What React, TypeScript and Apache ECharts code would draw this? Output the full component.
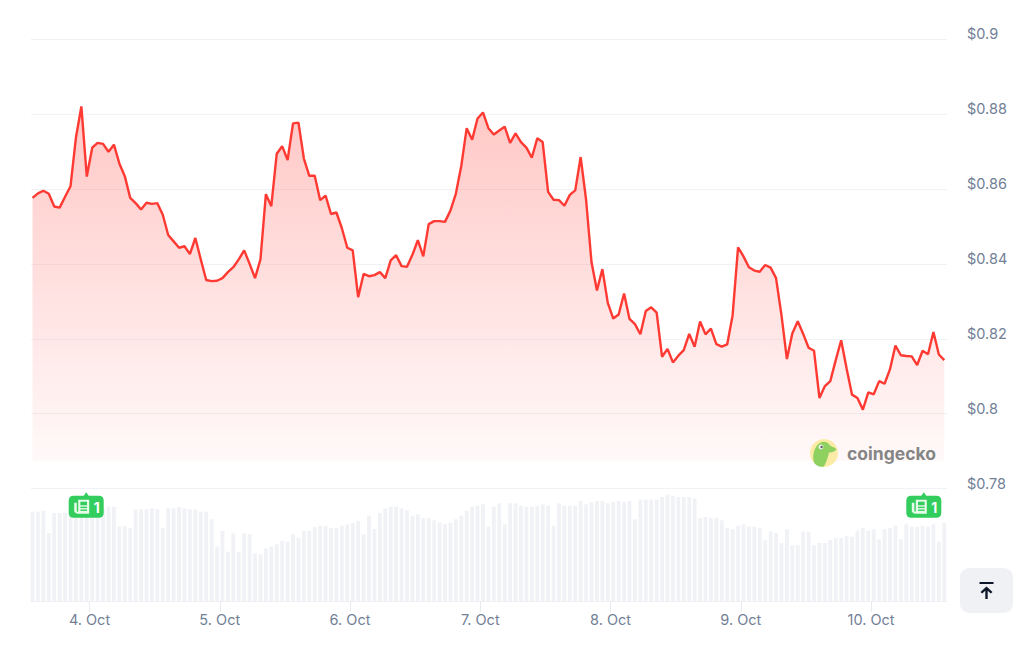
import React, { useEffect, useRef } from "react";
import * as echarts from "echarts";

const priceValues = [
  0.8576, 0.8588, 0.8595, 0.8587, 0.8553, 0.855, 0.8579, 0.8607, 0.8737, 0.882, 0.8633, 0.871, 0.8723, 0.872, 0.8699,
  0.8718, 0.8668, 0.8634, 0.8576, 0.8562, 0.8545, 0.8563, 0.856, 0.8562, 0.8531, 0.8477, 0.846, 0.8443, 0.8447, 0.8426,
  0.8469, 0.8412, 0.8357, 0.8354, 0.8355, 0.8362, 0.8378, 0.8391, 0.8412, 0.8436, 0.84, 0.8362, 0.8412, 0.8586, 0.8554,
  0.8694, 0.8714, 0.8677, 0.8775, 0.8777, 0.8681, 0.8635, 0.8635, 0.857, 0.8582, 0.8533, 0.8537, 0.8495, 0.8443, 0.8436,
  0.8311, 0.8373, 0.8367, 0.837, 0.8378, 0.8362, 0.8409, 0.8423, 0.8394, 0.8392, 0.8424, 0.8463, 0.842, 0.8506, 0.8514,
  0.8514, 0.8512, 0.8542, 0.8587, 0.8661, 0.8762, 0.8731, 0.8788, 0.8804, 0.8762, 0.8745, 0.8756, 0.8766, 0.8723, 0.8748,
  0.8725, 0.871, 0.8683, 0.8735, 0.8725, 0.8592, 0.8571, 0.857, 0.8555, 0.8584, 0.8596, 0.8685, 0.8571, 0.8404, 0.8329,
  0.8386, 0.8296, 0.8254, 0.8265, 0.8321, 0.8253, 0.8239, 0.8212, 0.8274, 0.8284, 0.827, 0.8152, 0.8173, 0.8137, 0.8155,
  0.817, 0.8213, 0.8179, 0.8246, 0.8212, 0.8227, 0.8186, 0.8179, 0.8185, 0.8263, 0.8444, 0.842, 0.8391, 0.8382, 0.8379,
  0.8397, 0.839, 0.8362, 0.8263, 0.8146, 0.8214, 0.8247, 0.8213, 0.8176, 0.8168, 0.8042, 0.8074, 0.8087, 0.8143, 0.8196,
  0.8121, 0.8051, 0.8042, 0.8011, 0.8057, 0.8052, 0.8087, 0.808, 0.8119, 0.8182, 0.8156, 0.8154, 0.8153, 0.813, 0.8168,
  0.8159, 0.8218, 0.8158, 0.8143,
];

const volumeValues = [
  89.3, 89.3, 90.3, 68, 88, 88, 88, 91, 90, 92, 92, 91, 91, 92, 94.3, 94.3, 74.7, 74.7, 73.3, 91.7, 91.7, 91.7, 92.7,
  91.7, 73, 92.7, 92.7, 94, 92.7, 91.7, 91.7, 89.3, 89.3, 81.7, 54.3, 70, 49.3, 67.7, 49.3, 67.7, 66.7, 47.7, 46.7, 52.7,
  54.3, 56.7, 60, 59.3, 66.7, 63.3, 70, 70.3, 74, 75.3, 75.3, 73, 73, 75.3, 76.7, 78, 80, 66.7, 85.3, 72, 88, 92.7, 94.3,
  94.3, 92.7, 90.7, 85.3, 86.7, 83, 83, 80.7, 78.3, 77, 78.3, 81.7, 85.3, 90.3, 94.3, 95.3, 96.7, 74.3, 94.3, 97.7, 76.7,
  97.7, 97.7, 95.3, 94.3, 94.3, 95.3, 96.7, 95.3, 75.3, 97.7, 95.3, 95.3, 95.3, 100, 96.7, 98.7, 100, 100, 97.7, 99, 100,
  99, 100, 81.7, 101.3, 101.3, 101.3, 101.3, 104, 106.3, 105.3, 104, 104, 104, 102.7, 83, 84, 83, 83, 80.7, 73, 71.7,
  75.3, 76.7, 74.3, 74.3, 73, 60.7, 69.7, 68, 58, 71.7, 55.7, 55.7, 69.3, 69.3, 55.7, 58, 58, 61, 63, 63, 65.3, 64.3,
  70.3, 73, 70.3, 71.7, 61.7, 71.7, 73, 75.3, 61.7, 76.7, 74.3, 74.3, 75.3, 74.3, 76.7, 59.3, 78,
];

const dayLabels = ["4. Oct", "5. Oct", "6. Oct", "7. Oct", "8. Oct", "9. Oct", "10. Oct"];
const dayHours = [0, 24, 48, 72, 96, 120, 144];
const firstHour = -10.5;
const hours = priceValues.map((_, i) => firstHour + i);
const newsCount = "1";
const watermark = "coingecko";

const RED = "#ff3a33";
const SLATE = "#728096";
const FONT = "Inter, 'Noto Sans', sans-serif";

echarts.graphic.registerShape(
  "badgeShape",
  echarts.graphic.extendPath(
    "M5 4 L15 4 L17.5 0.5 L20 4 L30 4 Q35 4 35 9 L35 21 Q35 26 30 26 L5 26 Q0 26 0 21 L0 9 Q0 4 5 4 Z",
    {}
  ) as any
);
echarts.graphic.registerShape(
  "paperShape",
  echarts.graphic.extendPath(
    "M4 0 L15 0 L15 14 L4 14 Q2 14 0.8 12.8 Q0 12 0 11 L0 3 L2.6 3 L2.6 11 Q2.6 12 3.4 12 Q4 12 4 11 Z",
    {}
  ) as any
);
echarts.graphic.registerShape(
  "geckoShape",
  echarts.graphic.extendPath(
    "M3 23 C1 16 3 8 8 4 C12 1 17 2 19 6 L25 9 C26 11 22 13 18 13 C17 18 15 23 13 27 C8 28 5 26 3 23 Z",
    {}
  ) as any
);
echarts.graphic.registerShape(
  "arrowShape",
  echarts.graphic.extendPath(
    "M0 0 L14 0 L14 2 L0 2 Z M7 4.5 L13 10 L11.3 11.6 L8.2 8.8 L8.2 17 L5.8 17 L5.8 8.8 L2.7 11.6 L1 10 Z",
    {}
  ) as any
);

function badge(x: number, y: number) {
  const px = x + 5.5;
  const py = y + 8;
  const G = "#32cd5c";
  const rects = [
    [6.2, 2, 6.6, 3.6],
    [6.2, 7, 6.6, 1.4],
    [6.2, 9.8, 6.6, 1.4],
  ];
  return [
    { type: "badgeShape", x, y, z: 100, style: { fill: G } },
    { type: "paperShape", x: px, y: py, z: 101, style: { fill: "#e6fbe9" } },
    ...rects.map((r) => ({
      type: "rect",
      z: 102,
      shape: { x: px + r[0], y: py + r[1], width: r[2], height: r[3] },
      style: { fill: G },
    })),
    {
      type: "text",
      x: x + 28,
      y: y + 15.5,
      z: 101,
      style: {
        text: newsCount,
        fill: "#ffffff",
        font: `700 14px ${FONT}`,
        align: "center",
        verticalAlign: "middle",
      },
    },
  ];
}

export default function App() {
  const ref = useRef<HTMLDivElement>(null);
  useEffect(() => {
    const chart = echarts.init(ref.current!, undefined, { renderer: "svg" });
    chart.setOption({
      animation: false,
      backgroundColor: "#ffffff",
      grid: [
        { left: 31, right: 77, top: 39, height: 449.7 },
        { left: 31, right: 77, top: 489, height: 112 },
      ],
      xAxis: [
        { type: "value", gridIndex: 0, min: -10.78, max: 158, show: false },
        {
          type: "value",
          gridIndex: 1,
          min: -10.78,
          max: 158,
          splitLine: { show: false },
          axisLine: { show: true, onZero: false, lineStyle: { color: "#eef0f3", width: 1 } },
          axisTick: { show: true, length: 11, customValues: dayHours, lineStyle: { color: "#e8eaee", width: 1 } },
          axisLabel: {
            customValues: dayHours,
            color: SLATE,
            fontFamily: FONT,
            fontSize: 14.5,
            margin: 11,
            formatter: (v: number) => dayLabels[dayHours.indexOf(v)] ?? "",
          },
        },
      ],
      yAxis: [
        {
          type: "value",
          gridIndex: 0,
          position: "right",
          min: 0.78,
          max: 0.9,
          interval: 0.02,
          axisLine: { show: false },
          axisTick: { show: false },
          splitLine: { show: true, lineStyle: { color: "#f1f2f5", width: 1 } },
          axisLabel: {
            color: SLATE,
            fontFamily: FONT,
            fontSize: 14.5,
            margin: 20,
            align: "left",
            verticalAlign: "bottom",
            lineHeight: 11,
            formatter: (v: number) => "$" + Number(v.toFixed(2)),
          },
        },
        { type: "value", gridIndex: 1, min: 0, max: 112, show: false },
      ],
      series: [
        {
          type: "bar",
          xAxisIndex: 1,
          yAxisIndex: 1,
          barWidth: 3.8,
          itemStyle: { color: "#f0f2f5" },
          data: hours.map((h, i) => [h, volumeValues[i]]),
        },
        {
          type: "line",
          xAxisIndex: 0,
          yAxisIndex: 0,
          symbol: "none",
          smooth: false,
          z: 5,
          lineStyle: { color: RED, width: 2.4 },
          areaStyle: {
            origin: 0.7873,
            opacity: 1,
            color: new echarts.graphic.LinearGradient(0, 0, 0, 1, [
              { offset: 0, color: "rgba(255,58,51,0.28)" },
              { offset: 1, color: "rgba(255,58,51,0.03)" },
            ]),
          },
          data: hours.map((h, i) => [h, priceValues[i]]),
        },
      ],
      graphic: [
        { type: "circle", z: 100, shape: { cx: 824, cy: 453, r: 14 }, style: { fill: "#fbeba6" } },
        { type: "geckoShape", x: 811, y: 439.5, z: 101, style: { fill: "#8fd160" } },
        { type: "circle", z: 102, shape: { cx: 821, cy: 447, r: 2.4 }, style: { fill: "#f5f5f5" } },
        { type: "circle", z: 103, shape: { cx: 821.6, cy: 447, r: 1.2 }, style: { fill: "#555555" } },
        {
          type: "text",
          x: 847,
          y: 453,
          z: 100,
          style: {
            text: watermark,
            fill: "#858585",
            font: `700 17.5px ${FONT}`,
            align: "left",
            verticalAlign: "middle",
          },
        },
        ...badge(68.7, 491.7),
        ...badge(906.3, 491.7),
        {
          type: "rect",
          z: 100,
          shape: { x: 960, y: 568, width: 53, height: 45, r: 9 },
          style: { fill: "#eff1f5" },
        },
        { type: "arrowShape", x: 979.5, y: 582, z: 101, style: { fill: "#0f172a" } },
      ],
    });
    return () => chart.dispose();
  }, []);
  return <div ref={ref} style={{ position: "fixed", left: 0, top: 0, width: 1024, height: 645 }} />;
}
